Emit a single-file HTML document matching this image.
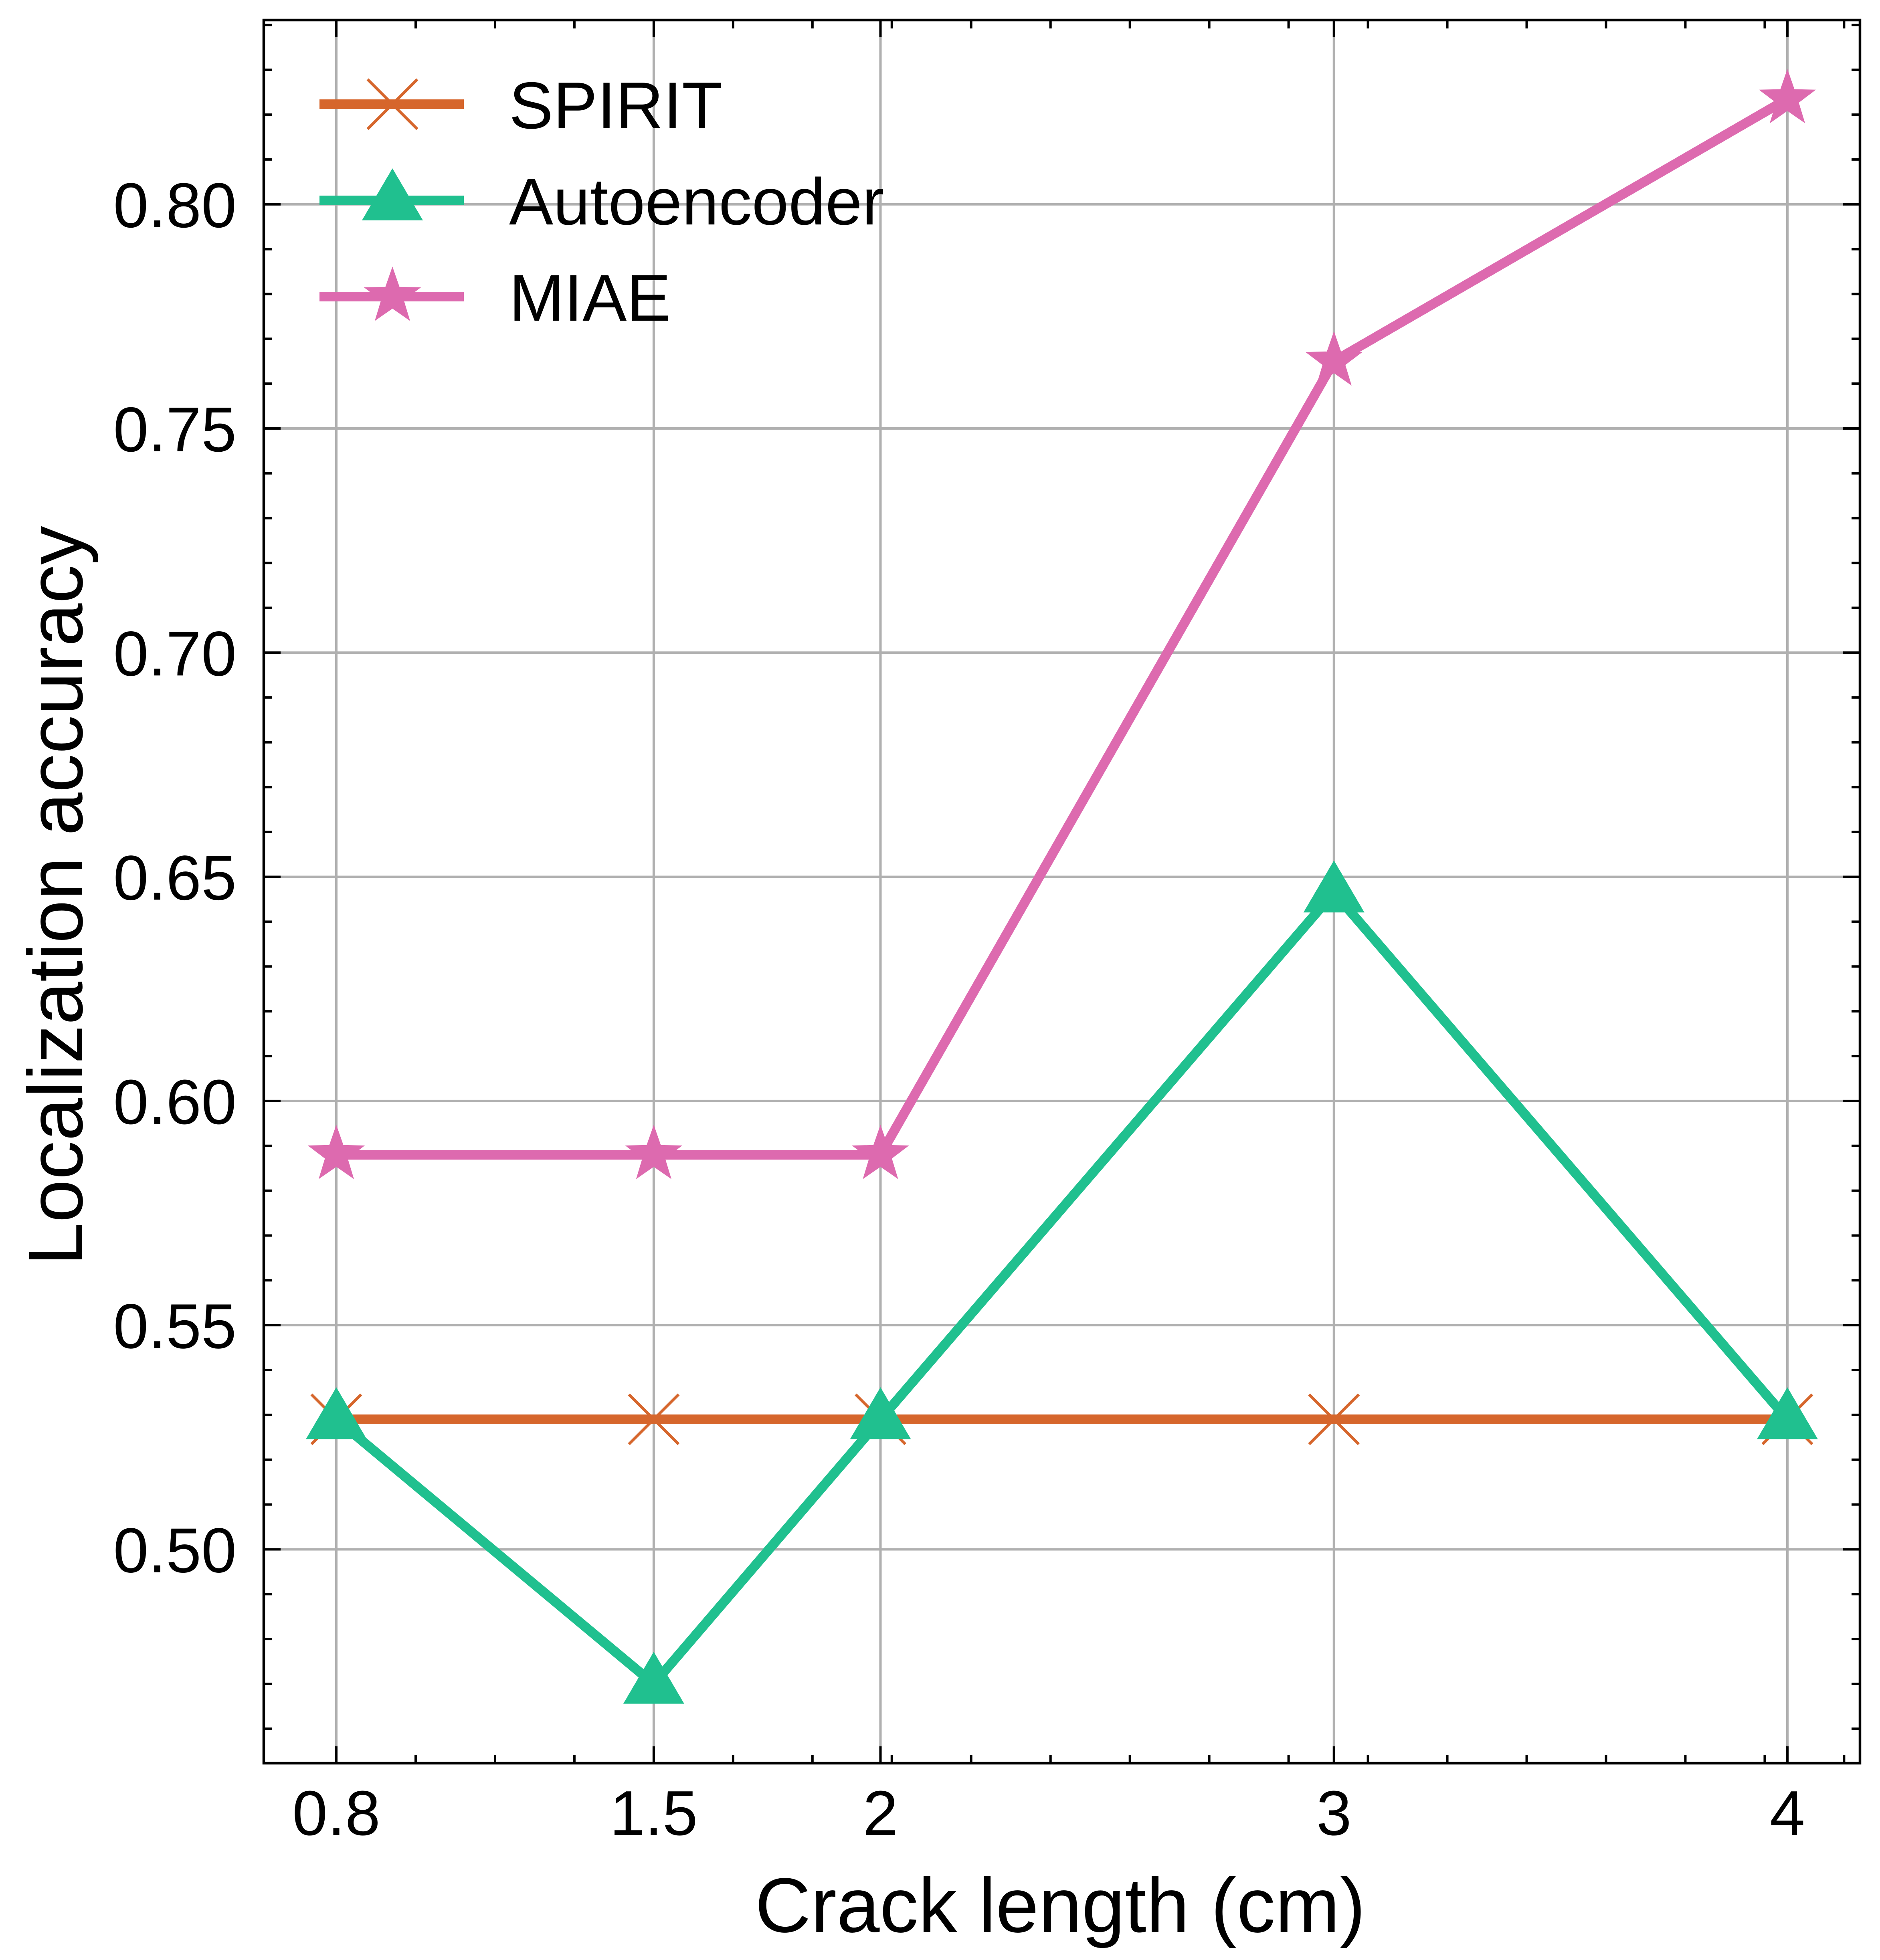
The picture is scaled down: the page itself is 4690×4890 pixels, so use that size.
<!DOCTYPE html>
<html><head><meta charset="utf-8"><style>html,body{margin:0;padding:0;background:#fff}svg{display:block}</style></head>
<body>
<svg id="chart" width="4690" height="4890" viewBox="0 0 4690 4890" xmlns="http://www.w3.org/2000/svg" font-family="Liberation Sans, DejaVu Sans, sans-serif"></svg>
<script>
const categories = [0.8, 1.5, 2, 3, 4];
const xTickLabels = ["0.8", "1.5", "2", "3", "4"];
const spiritValues = [0.529, 0.529, 0.529, 0.529, 0.529];
const autoencoderValues = [0.529, 0.470, 0.529, 0.6465, 0.529];
const miaeValues = [0.588, 0.588, 0.588, 0.765, 0.8235];
const yTicks = [0.50, 0.55, 0.60, 0.65, 0.70, 0.75, 0.80];
const yTickLabels = ["0.50", "0.55", "0.60", "0.65", "0.70", "0.75", "0.80"];

const L=658,R=4640,T=50,B=4399;
const xMin=0.64,xMax=4.16,yMin=0.4523,yMax=0.8411;
const sx=v=>L+(v-xMin)/(xMax-xMin)*(R-L);
const sy=v=>B-(v-yMin)/(yMax-yMin)*(B-T);
const svg=document.getElementById('chart');
const NS='http://www.w3.org/2000/svg';
function mk(tag,attrs,parent){const e=document.createElementNS(NS,tag);for(const k in attrs)e.setAttribute(k,attrs[k]);(parent||svg).appendChild(e);return e;}

// grid
const grid=mk('g',{});


categories.forEach(c=>{const l=mk('line',{x1:sx(c),x2:sx(c),y1:T,y2:B,stroke:'#b0b0b0','stroke-width':6},grid);

});
yTicks.forEach(v=>{const l=mk('line',{x1:L,x2:R,y1:sy(v),y2:sy(v),stroke:'#b0b0b0','stroke-width':6},grid);

});

// ticks
const ticks=mk('g',{stroke:'#000','stroke-width':6});


categories.forEach(c=>{mk('line',{x1:sx(c),x2:sx(c),y1:B,y2:B-42},ticks);mk('line',{x1:sx(c),x2:sx(c),y1:T,y2:T+42},ticks);});
for(let k=1;;k++){const v=0.8+k*0.175;if(v>xMax)break;if(categories.some(c=>Math.abs(c-v)<1e-6))continue;
mk('line',{x1:sx(v),x2:sx(v),y1:B,y2:B-21},ticks);mk('line',{x1:sx(v),x2:sx(v),y1:T,y2:T+21},ticks);}
yTicks.forEach(v=>{mk('line',{x1:L,x2:L+42,y1:sy(v),y2:sy(v)},ticks);mk('line',{x1:R,x2:R-42,y1:sy(v),y2:sy(v)},ticks);});
for(let k=46;k<=84;k++){const v=k/100;if(k%5===0)continue;
mk('line',{x1:L,x2:L+21,y1:sy(v),y2:sy(v)},ticks);mk('line',{x1:R,x2:R-21,y1:sy(v),y2:sy(v)},ticks);}

// tick labels
categories.forEach((c,i)=>{const t=mk('text',{x:sx(c),y:4578,'font-size':158,'text-anchor':'middle'});t.textContent=xTickLabels[i];

});
yTicks.forEach((v,i)=>{const t=mk('text',{x:590,y:sy(v)+57,'font-size':158,'text-anchor':'end'});t.textContent=yTickLabels[i];

});

// axis titles
const xt=mk('text',{x:2645,y:4820,'font-size':193,'text-anchor':'middle'});xt.textContent='Crack length (cm)';


const yt=mk('text',{x:0,y:0,'font-size':193,'text-anchor':'middle',transform:'translate(205,2235) rotate(-90)'});yt.textContent='Localization accuracy';



// markers
function marker(kind,x,y,color,parent){
 if(kind==='x'){const s=62;const g=mk('g',{stroke:color,'stroke-width':7},parent);
  mk('line',{x1:x-s,y1:y-s,x2:x+s,y2:y+s},g);mk('line',{x1:x-s,y1:y+s,x2:x+s,y2:y-s},g);return g;}
 if(kind==='tri'){const s=80;return mk('polygon',{points:`${x},${y-s} ${x+s*0.95},${y+s*0.62} ${x-s*0.95},${y+s*0.62}`,fill:color},parent);}
 const pts=[];for(let i=0;i<10;i++){const r=i%2?30:75;const a=-Math.PI/2+i*Math.PI/5;pts.push((x+r*Math.cos(a)).toFixed(1)+','+(y+r*Math.sin(a)).toFixed(1));}
 return mk('polygon',{points:pts.join(' '),fill:color},parent);
}
const seriesList=[
 {name:'SPIRIT',vals:spiritValues,color:'#d6662c',m:'x',id:'spirit'},
 {name:'Autoencoder',vals:autoencoderValues,color:'#20c08f',m:'tri',id:'autoencoder'},
 {name:'MIAE',vals:miaeValues,color:'#dd6aaf',m:'star',id:'miae'}];
seriesList.forEach(s=>{
 const g=mk('g',{});
 
 
 const p=mk('polyline',{points:s.vals.map((v,i)=>sx(categories[i])+','+sy(v)).join(' '),fill:'none',stroke:s.color,'stroke-width':24,'stroke-linejoin':'round'},g);
 
 
 s.vals.forEach((v,i)=>{const m=marker(s.m,sx(categories[i]),sy(v),s.color,g);
  
  });
});

// spines
const sp=mk('rect',{x:L,y:T,width:R-L,height:B-T,fill:'none',stroke:'#000','stroke-width':6.5});



// legend
const leg=mk('g',{});


seriesList.forEach((s,i)=>{const y=260+i*240;
 const e=mk('g',{},leg);
 
 
 mk('line',{x1:797,x2:1157,y1:y,y2:y,stroke:s.color,'stroke-width':24},e);
 marker(s.m,979,y,s.color,e);
 const t=mk('text',{x:1270,y:y+60,'font-size':165},e);t.textContent=s.name;});
</script>
</body></html>
